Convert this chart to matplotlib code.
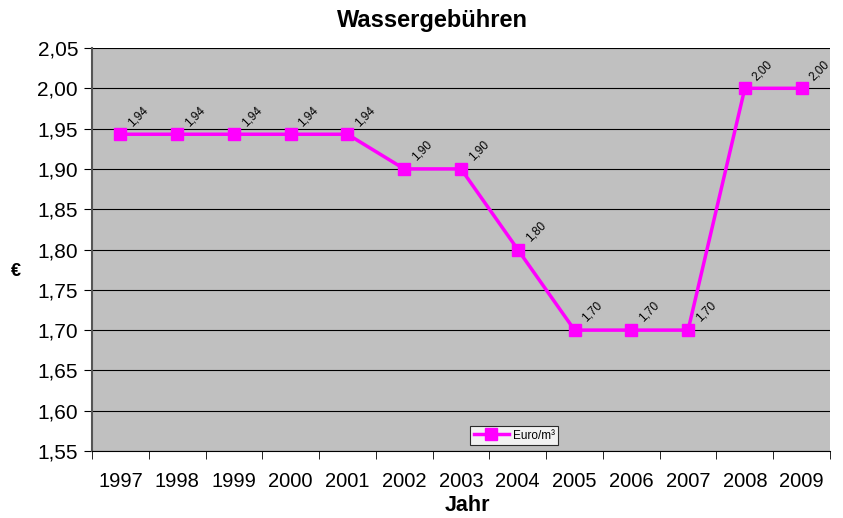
import numpy as np
import matplotlib
matplotlib.use("Agg")
from matplotlib import pyplot as plt
from matplotlib.ticker import FixedLocator, FuncFormatter

years = ["1997", "1998", "1999", "2000", "2001", "2002", "2003",
         "2004", "2005", "2006", "2007", "2008", "2009"]
euro_per_m3 = [1.943, 1.943, 1.943, 1.943, 1.943, 1.90, 1.90,
               1.80, 1.70, 1.70, 1.70, 2.00, 2.00]

plt.rcParams["font.family"] = ["Liberation Sans", "DejaVu Sans"]

fig = plt.figure(figsize=(8.43, 5.18), dpi=100)
ax = fig.add_axes([92 / 843, 1 - 451 / 518, 738 / 843, 403 / 518])
ax.set_facecolor("#c0c0c0")

x = np.arange(len(years))
ax.plot(x, euro_per_m3, color="#ff00ff", lw=2.5, marker="s", ms=8,
        label="Euro/m³", zorder=3)

# data labels, comma as decimal separator
for xi, v in zip(x, euro_per_m3):
    ax.annotate("{:.2f}".format(v).replace(".", ","), (xi, v),
                xytext=(10, 4), textcoords="offset points",
                rotation=45, rotation_mode="anchor", ha="left", va="bottom",
                fontsize=8.5, zorder=4)

ax.set_xlim(-0.5, len(years) - 0.5)
ax.set_ylim(1.55, 2.05)
yt = np.arange(1.55, 2.051, 0.05)
ax.set_yticks(yt)
ax.yaxis.set_major_formatter(FuncFormatter(lambda v, p: "{:.2f}".format(v).replace(".", ",")))
ax.yaxis.grid(True, color="black", lw=0.8)
ax.set_axisbelow(True)

ax.set_xticks(x)
ax.set_xticklabels(years)
ax.xaxis.set_minor_locator(FixedLocator(np.arange(-0.5, len(years), 1)))
ax.tick_params(axis="x", which="major", length=0, pad=15, labelsize=14.5)
ax.tick_params(axis="x", which="minor", length=6, color="black")
ax.tick_params(axis="y", length=6, labelsize=15, pad=4)

for s in ["top", "right"]:
    ax.spines[s].set_visible(False)
ax.spines["left"].set_color("#555555")
ax.spines["left"].set_linewidth(1.5)
ax.spines["bottom"].set_color("black")

fig.text(432 / 843, 1 - 20 / 518, "Wassergebühren", fontsize=17,
         fontweight="bold", ha="center", va="center")
ax.set_xlabel("Jahr", fontsize=15.5, fontweight="bold", va="center")
ax.xaxis.set_label_coords(0.509, -0.136)
ax.set_ylabel("€", fontsize=13, fontweight="bold", rotation=0, va="center")
ax.yaxis.set_label_coords(-0.103, 0.445)

leg = ax.legend(loc="lower center", bbox_to_anchor=(0.572, 0.0), fontsize=8.5,
                frameon=True, fancybox=False, edgecolor="black",
                handlelength=3, borderpad=0.3, handletextpad=0.3)
leg.get_frame().set_facecolor("white")
leg.get_frame().set_linewidth(0.8)

plt.savefig("out.png", dpi=100)
